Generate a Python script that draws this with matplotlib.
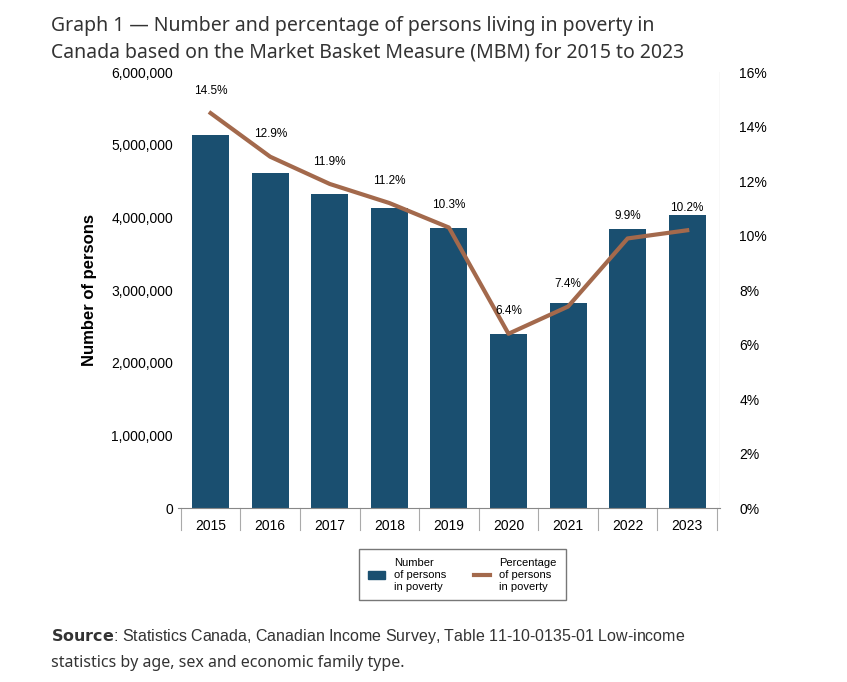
import matplotlib.pyplot as plt
from matplotlib.ticker import FuncFormatter

years = ['2015', '2016', '2017', '2018', '2019', '2020', '2021', '2022', '2023']
persons = [5130000, 4620000, 4330000, 4130000, 3850000, 2390000, 2820000, 3840000, 4030000]
pct = [14.5, 12.9, 11.9, 11.2, 10.3, 6.4, 7.4, 9.9, 10.2]
pct_labels = ['14.5%', '12.9%', '11.9%', '11.2%', '10.3%', '6.4%', '7.4%', '9.9%', '10.2%']

bar_color = '#1a4f70'
line_color = '#a3694c'

plt.rcParams['font.family'] = ['Liberation Sans', 'DejaVu Sans']
fig = plt.figure(figsize=(8.47, 6.82), dpi=100)
ax = fig.add_axes([0.21, 0.255, 0.64, 0.639])
x = range(len(years))
ax.bar(x, persons, width=0.62, color=bar_color, zorder=2)
ax.set_xlim(-0.55, len(years) - 0.45)
ax.set_ylim(0, 6000000)
ax.set_yticks(range(0, 6000001, 1000000))
ax.yaxis.set_major_formatter(FuncFormatter(lambda v, p: f'{int(v):,}'))
ax.set_xticks(list(x))
ax.set_xticklabels(years)
ax.set_ylabel('Number of persons', fontsize=12, fontweight='bold', labelpad=10)
for s in ['top', 'right', 'left']:
    ax.spines[s].set_visible(False)
ax.spines['bottom'].set_color('#888888')
ax.tick_params(axis='y', length=0, labelsize=10)
ax.tick_params(axis='x', labelsize=10, length=18, color='#aaaaaa')
for i in range(len(years) + 1):
    ax.axvline(i - 0.5, ymin=-0.05, ymax=0, color='#aaaaaa', lw=0.8, clip_on=False)
ax.tick_params(axis='x', length=0, pad=8)

ax2 = ax.twinx()
ax2.plot(x, pct, color=line_color, lw=3, zorder=3)
ax2.set_ylim(0, 16)
ax2.set_yticks(range(0, 17, 2))
ax2.yaxis.set_major_formatter(FuncFormatter(lambda v, p: f'{int(v)}%'))
for s in ['top', 'right', 'left', 'bottom']:
    ax2.spines[s].set_visible(False)
ax2.tick_params(axis='y', length=0, labelsize=10, pad=14)
ax2.axvline(len(years) - 0.45, color='#888888', lw=0.8)
for i, (v, t) in enumerate(zip(pct, pct_labels)):
    ax2.text(i, v + 0.6, t, ha='center', va='bottom', fontsize=8.5)

fig.text(0.06, 0.955, 'Graph 1 — Number and percentage of persons living in poverty in',
         fontsize=14, fontweight='bold', color='#333333', family=['Noto Sans', 'DejaVu Sans'])
fig.text(0.06, 0.915, 'Canada based on the Market Basket Measure (MBM) for 2015 to 2023',
         fontsize=14, fontweight='bold', color='#333333', family=['Noto Sans', 'DejaVu Sans'])

h1 = plt.Rectangle((0, 0), 1, 1, color=bar_color)
h2 = plt.Line2D([], [], color=line_color, lw=3)
fig.legend([h1, h2], ['Number\nof persons\nin poverty', 'Percentage\nof persons\nin poverty'],
           loc='center', bbox_to_anchor=(0.546, 0.157), ncol=2, fontsize=8,
           frameon=True, fancybox=False, edgecolor='#555555', handlelength=1.5,
           columnspacing=2.5, borderpad=0.8)

fig.text(0.06, 0.06, r'$\bf{Source}$: Statistics Canada, Canadian Income Survey, Table 11-10-0135-01 Low-income',
         fontsize=11.5, color='#333333')
fig.text(0.06, 0.022, 'statistics by age, sex and economic family type.', fontsize=11.5, color='#333333',
         family=['Noto Sans', 'DejaVu Sans'])

fig.savefig('out.png', dpi=100)
